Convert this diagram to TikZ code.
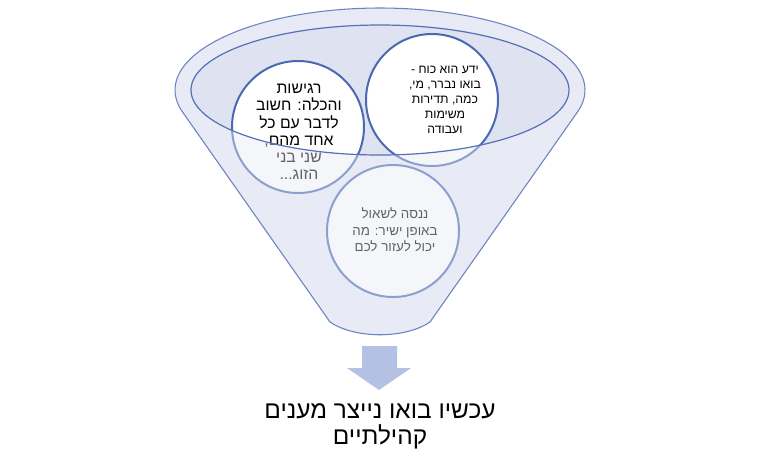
\documentclass[tikz,border=0pt]{standalone}
\usepackage{fontspec}
\newfontfamily\heb[Script=Hebrew]{Liberation Sans}
\TeXXeTstate=1
\definecolor{funfill}{HTML}{E8EBF5}
\definecolor{innerfill}{HTML}{DFE3F1}
\definecolor{funline}{HTML}{6C82C2}
\definecolor{innerline}{HTML}{5470B6}
\definecolor{circline}{HTML}{4A69B2}
\definecolor{arrowfill}{HTML}{B4C1E2}
\tikzset{
  circ/.style={circle, draw=circline, line width=1.5pt, fill=white, minimum size=99pt, inner sep=0pt},
  txtA/.style={align=center, font=\heb\fontsize{11.8}{12.9}\selectfont, text=black},
  txtB/.style={align=center, font=\heb\fontsize{9.2}{11.25}\selectfont, text=black},
  txtC/.style={align=center, font=\heb\fontsize{10}{12.5}\selectfont, text=black},
  txtOut/.style={align=center, font=\heb\fontsize{18.3}{19.5}\selectfont, text=black},
}
\begin{document}
\begin{tikzpicture}[x=0.75pt,y=-0.75pt]
\useasboundingbox (0,0) rectangle (760,469);
% funnel base
\fill[funfill] (330,322) -- plot[domain=164.3:375.7,samples=90] ({380+205*cos(\x)},{90+82*sin(\x)}) -- (430,322) .. controls (405,339) and (355,339) .. (330,322) -- cycle;
% inner ellipse
\fill[innerfill] (380,90) ellipse [x radius=141.75pt, y radius=48.75pt];
% circles
\node[circ] (ca) at (298,127) {};
\node[circ] (cb) at (432,100) {};
\node[circ] (cc) at (393,231) {};
\node[txtA] (ta) at (299,132) {\beginR רגישות\endR\\\beginR והכלה: חשוב\endR\\\beginR לדבר עם כל\endR\\\beginR אחד מהם,\endR\\\beginR שני בני\endR\\\beginR הזוג...\endR};
\node[txtB] (tb) at (445,100) {\beginR ידע הוא כוח -\endR\\\beginR בואו נברר, מי,\endR\\\beginR כמה, תדירות\endR\\\beginR משימות\endR\\\beginR ועבודה\endR};
\node[txtC] (tc) at (395,230) {\beginR ננסה לשאול\endR\\\beginR באופן ישיר: מה\endR\\\beginR יכול לעזור לכם\endR};
% overlay of funnel body
\fill[funfill, fill opacity=0.42, even odd rule] (330,322) -- plot[domain=164.3:375.7,samples=90] ({380+205*cos(\x)},{90+82*sin(\x)}) -- (430,322) .. controls (405,339) and (355,339) .. (330,322) -- cycle (380,90) ellipse [x radius=141.75pt, y radius=48.75pt];
% outlines
\draw[funline, line width=0.8pt, line join=round] (330,322) -- plot[domain=164.3:375.7,samples=90] ({380+205*cos(\x)},{90+82*sin(\x)}) -- (430,322) .. controls (405,339) and (355,339) .. (330,322) -- cycle;
\draw[innerline, line width=0.9pt] (380,90) ellipse [x radius=141.75pt, y radius=48.75pt];
% arrow
\fill[arrowfill] (362,346) -- (397,346) -- (397,368) -- (411,368) -- (379,390) -- (347,368) -- (362,368) -- cycle;
% output text
\node[txtOut] (out) at (380,426) {\beginR עכשיו בואו נייצר מענים\endR\\\beginR קהילתיים\endR};
\end{tikzpicture}
\end{document}
